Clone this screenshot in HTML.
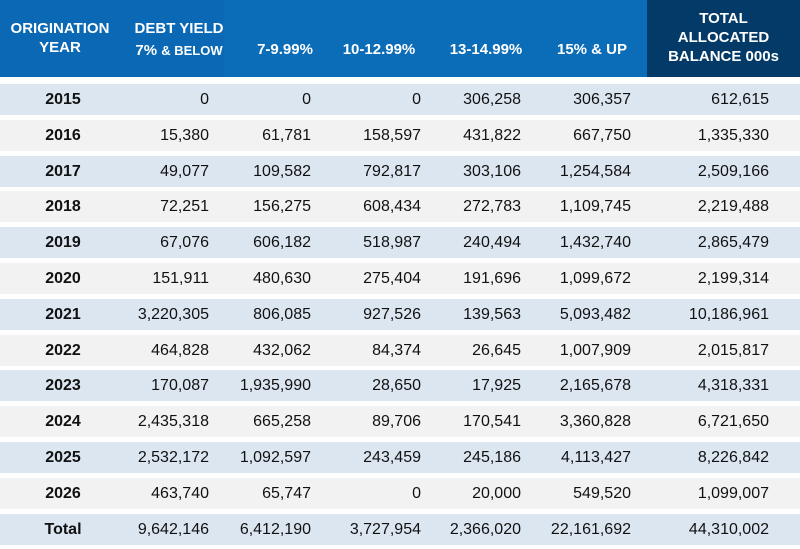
<!DOCTYPE html>
<html><head><meta charset="utf-8"><style>
body{margin:0;width:800px;height:549px;background:#fff;position:relative;overflow:hidden;font-family:"Liberation Sans",Arial,sans-serif}
.h{position:absolute;top:0;height:77px;background:#0a68b4}
.hd{position:absolute;color:#fff;font-weight:bold;font-size:15px;text-align:center;line-height:19px}
.b{position:absolute;left:0;width:800px;height:31px}
.c{position:absolute;font-size:16px;color:#111;line-height:31px;text-align:right;width:150px}
.y{position:absolute;font-size:16px;font-weight:bold;color:#111;line-height:31px;text-align:center;width:126px;left:0}
</style></head><body>
<div class="h" style="left:0;width:224px"></div>
<div class="h" style="left:224px;width:423px;background:#0b6cb8"></div>
<div class="h" style="left:647px;width:153px;background:#043a68"></div>
<div class="hd" style="left:0;width:120px;top:19px">ORIGINATION<br>YEAR</div>
<div class="hd" style="left:124px;width:110px;top:18px;line-height:22px">DEBT YIELD<br>7% <span style="font-size:13px">&amp; BELOW</span></div>
<div class="hd" style="left:230px;width:110px;top:40px">7-9.99%</div>
<div class="hd" style="left:324px;width:110px;top:40px">10-12.99%</div>
<div class="hd" style="left:431px;width:110px;top:40px">13-14.99%</div>
<div class="hd" style="left:537px;width:110px;top:40px">15% &amp; UP</div>
<div class="hd" style="left:647px;width:153px;top:9px">TOTAL<br>ALLOCATED<br>BALANCE 000s</div>
<div id="t"></div>
<script>
var d=[["2015","0","0","0","306,258","306,357","612,615"],
["2016","15,380","61,781","158,597","431,822","667,750","1,335,330"],
["2017","49,077","109,582","792,817","303,106","1,254,584","2,509,166"],
["2018","72,251","156,275","608,434","272,783","1,109,745","2,219,488"],
["2019","67,076","606,182","518,987","240,494","1,432,740","2,865,479"],
["2020","151,911","480,630","275,404","191,696","1,099,672","2,199,314"],
["2021","3,220,305","806,085","927,526","139,563","5,093,482","10,186,961"],
["2022","464,828","432,062","84,374","26,645","1,007,909","2,015,817"],
["2023","170,087","1,935,990","28,650","17,925","2,165,678","4,318,331"],
["2024","2,435,318","665,258","89,706","170,541","3,360,828","6,721,650"],
["2025","2,532,172","1,092,597","243,459","245,186","4,113,427","8,226,842"],
["2026","463,740","65,747","0","20,000","549,520","1,099,007"],
["Total","9,642,146","6,412,190","3,727,954","2,366,020","22,161,692","44,310,002"]];
var R=[209,311,421,521,631,769],h="";
d.forEach(function(r,i){var t=84+i*35.8;
h+='<div class="b" style="top:'+t+'px;background:'+(i%2?'#f2f2f2':'#dce6f1')+'"></div>';
h+='<div class="y" style="top:'+t+'px">'+r[0]+'</div>';
for(var j=1;j<7;j++)h+='<div class="c" style="top:'+t+'px;left:'+(R[j-1]-150)+'px">'+r[j]+'</div>';});
document.getElementById('t').innerHTML=h;
</script>
</body></html>
